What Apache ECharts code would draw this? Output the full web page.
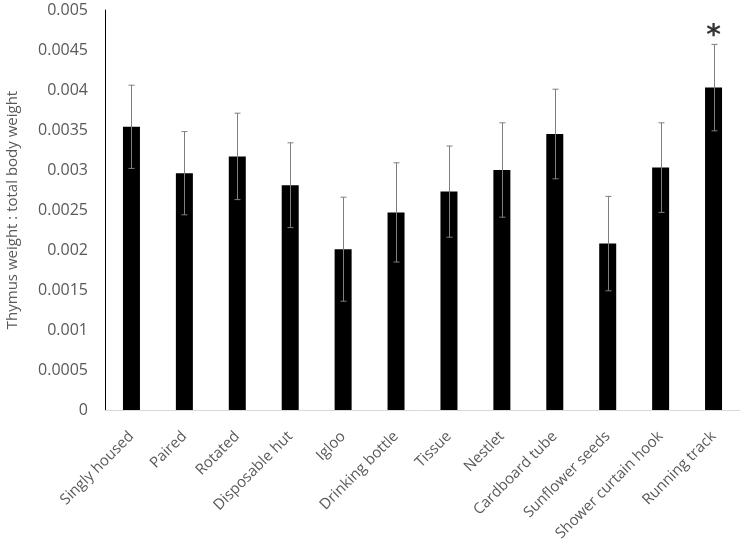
<!DOCTYPE html>
<html>
<head>
<meta charset="utf-8">
<script src="https://cdn.jsdelivr.net/npm/echarts@6/dist/echarts.min.js"></script>
<style>html,body{margin:0;padding:0;background:#fff}#c{width:745px;height:548px}</style>
</head>
<body>
<div id="c"></div>
<script>
const categories = ['Singly housed','Paired','Rotated','Disposable hut','Igloo','Drinking bottle','Tissue','Nestlet','Cardboard tube','Sunflower seeds','Shower curtain hook','Running track'];
const means = [0.00354,0.00296,0.00317,0.00281,0.00201,0.00247,0.00273,0.00300,0.00345,0.00208,0.00303,0.00403];
const errors = [0.00052,0.00052,0.00054,0.00053,0.00065,0.00062,0.00057,0.00059,0.00056,0.00059,0.00056,0.00054];
const significance = ['','','','','','','','','','','','*'];
const yTickLabels = ['0','0.0005','0.001','0.0015','0.002','0.0025','0.003','0.0035','0.004','0.0045','0.005'];

const font = '"Open Sans", sans-serif';
const chart = echarts.init(document.getElementById('c'));

const errData = means.map((m, i) => [i, m - errors[i], m + errors[i]]);
const sigData = significance.map((s, i) => s ? {value: [i, means[i] + errors[i]], sig: s} : null).filter(Boolean);

chart.setOption({
  animation: false,
  grid: {left: 105, right: 5, top: 10, bottom: 138, containLabel: false, outerBoundsMode: 'none'},
  xAxis: {
    type: 'category',
    data: categories,
    axisLine: {lineStyle: {color: '#d9d9d9', width: 1}},
    axisTick: {show: false},
    axisLabel: {rotate: 45, interval: 0, color: '#595959', fontFamily: font, fontSize: 15, margin: 24}
  },
  yAxis: {
    type: 'value',
    min: 0, max: 0.005, interval: 0.0005,
    name: 'Thymus weight : total body weight',
    nameLocation: 'middle',
    nameGap: 85,
    nameTextStyle: {color: '#595959', fontFamily: font, fontSize: 15},
    axisLine: {show: true, lineStyle: {color: '#000', width: 1}},
    axisTick: {show: false},
    splitLine: {show: false},
    axisLabel: {
      color: '#595959', fontFamily: font, fontSize: 16, margin: 17,
      formatter: (v) => yTickLabels[Math.round(v / 0.0005)]
    }
  },
  series: [
    {
      type: 'bar',
      data: means,
      barWidth: 17,
      itemStyle: {color: '#000'}
    },
    {
      type: 'custom',
      data: errData,
      z: 10,
      renderItem: (params, api) => {
        const x = api.value(0);
        const lo = api.coord([x, api.value(1)]);
        const hi = api.coord([x, api.value(2)]);
        const cx = Math.round(lo[0]) + 0.5;
        const w = 3;
        const style = {stroke: '#7f7f7f', lineWidth: 1};
        return {
          type: 'group',
          children: [
            {type: 'line', shape: {x1: cx, y1: hi[1], x2: cx, y2: lo[1]}, style},
            {type: 'line', shape: {x1: cx - w, y1: hi[1], x2: cx + w, y2: hi[1]}, style},
            {type: 'line', shape: {x1: cx - w, y1: lo[1], x2: cx + w, y2: lo[1]}, style}
          ]
        };
      }
    },
    {
      type: 'scatter',
      data: sigData,
      symbolSize: 0,
      z: 11,
      label: {
        show: true,
        position: 'top',
        distance: -6,
        formatter: (p) => p.data.sig,
        color: '#000',
        fontFamily: 'DejaVu Sans, sans-serif',
        fontSize: 28,
        fontWeight: 'bold'
      }
    }
  ]
});
</script>
</body>
</html>
